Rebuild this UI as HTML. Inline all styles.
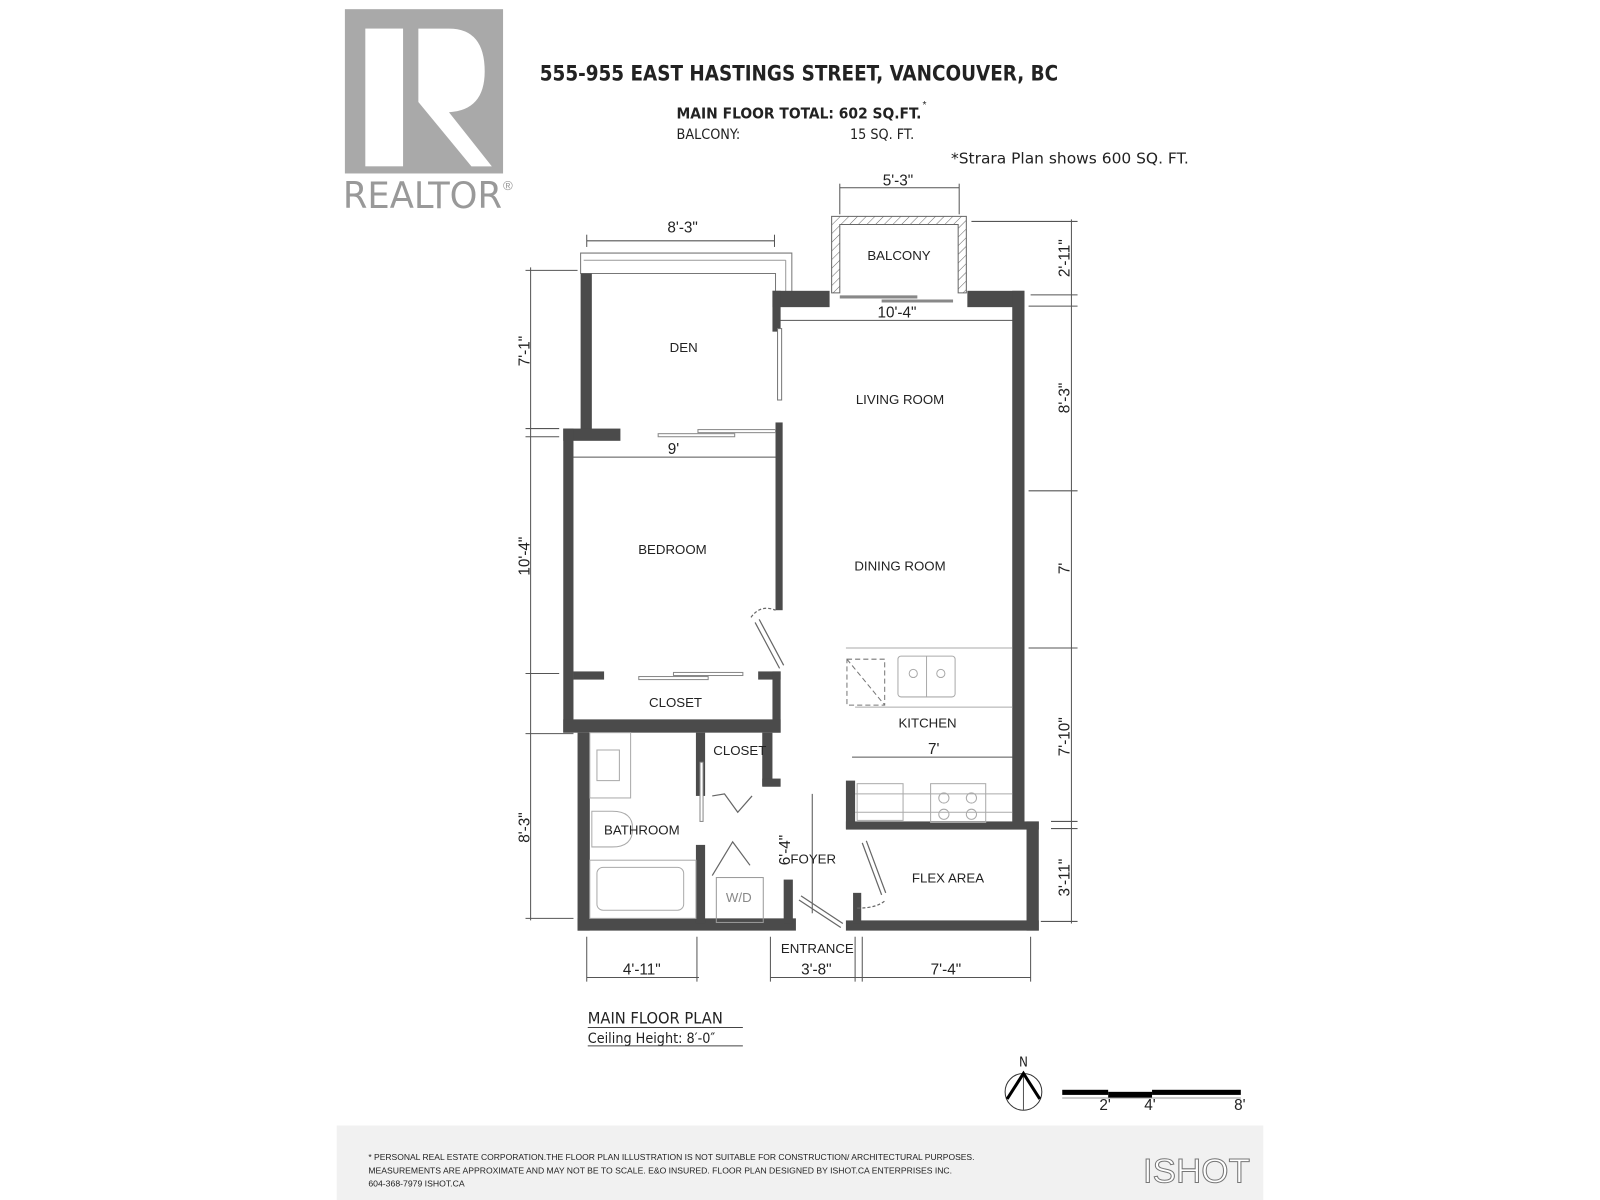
<!DOCTYPE html>
<html><head><meta charset="utf-8"><style>
html,body{margin:0;padding:0;background:#fff;width:1600px;height:1200px;overflow:hidden}
svg{display:block}
text{font-family:"Liberation Sans",sans-serif;fill:#222}
.c{font-family:"DejaVu Sans Condensed","Liberation Sans",sans-serif}
</style></head><body>
<svg width="1600" height="1200" viewBox="0 0 1568 1176" preserveAspectRatio="none" xmlns="http://www.w3.org/2000/svg">
<defs>
<pattern id="h" width="6" height="6" patternUnits="userSpaceOnUse" patternTransform="rotate(45)">
<rect width="6" height="6" fill="#fff"/><line x1="0" y1="0" x2="0" y2="6" stroke="#666" stroke-width="1"/></pattern>
</defs>
<!-- Realtor logo -->
<rect x="338" y="9" width="155" height="161" fill="#a9a9a9"/>
<rect x="358" y="28" width="37" height="135" fill="#fff"/>
<path d="M410 28 H440 Q475 28 475 70 Q475 108 440 110 L482 163 H462 L410 100 Z" fill="#fff"/>
<text x="336" y="204" font-size="36" style="fill:#999" class="c" textLength="156" lengthAdjust="spacingAndGlyphs">REALTOR</text>
<text x="493" y="186" font-size="13" style="fill:#999">®</text>
<!-- Titles -->
<text x="529" y="79" font-size="21" font-weight="bold" class="c" textLength="508" lengthAdjust="spacingAndGlyphs">555-955 EAST HASTINGS STREET, VANCOUVER, BC</text>
<text x="663" y="116" font-size="15" font-weight="bold" class="c" textLength="240" lengthAdjust="spacingAndGlyphs">MAIN FLOOR TOTAL: 602 SQ.FT.</text>
<text x="904" y="106" font-size="10">*</text>
<text x="663" y="136" font-size="14" class="c">BALCONY:</text>
<text x="833" y="136" font-size="14" class="c">15 SQ. FT.</text>
<text x="932" y="160" font-size="15" class="c" textLength="233" lengthAdjust="spacingAndGlyphs">*Strara Plan shows 600 SQ. FT.</text>
<g stroke="#555" stroke-width="1" fill="none">
<line x1="823" y1="184" x2="940" y2="184"/><line x1="823" y1="180" x2="823" y2="210"/><line x1="940" y1="180" x2="940" y2="210"/>
<line x1="575" y1="236" x2="759" y2="236"/><line x1="575" y1="230" x2="575" y2="242"/><line x1="759" y1="230" x2="759" y2="242"/>
<line x1="763" y1="314" x2="995" y2="314"/>
<line x1="562" y1="448" x2="762" y2="448"/>
<line x1="835" y1="742" x2="993" y2="742"/>
<line x1="1050" y1="215" x2="1050" y2="905"/>
<line x1="952" y1="217" x2="1056" y2="217"/><line x1="1010" y1="289" x2="1056" y2="289"/><line x1="1008" y1="300" x2="1056" y2="300"/>
<line x1="1008" y1="481" x2="1056" y2="481"/><line x1="1008" y1="635" x2="1056" y2="635"/><line x1="1030" y1="805" x2="1056" y2="805"/><line x1="1030" y1="812" x2="1056" y2="812"/><line x1="1020" y1="903" x2="1056" y2="903"/>
<line x1="520" y1="262" x2="520" y2="902"/>
<line x1="515" y1="265" x2="566" y2="265"/><line x1="515" y1="420" x2="548" y2="420"/><line x1="515" y1="428" x2="548" y2="428"/><line x1="515" y1="660" x2="548" y2="660"/><line x1="515" y1="719" x2="562" y2="719"/><line x1="515" y1="900" x2="562" y2="900"/>
<line x1="575" y1="958" x2="685" y2="958"/><line x1="575" y1="918" x2="575" y2="962"/><line x1="683" y1="918" x2="683" y2="962"/>
<line x1="755" y1="958" x2="1010" y2="958"/><line x1="755" y1="918" x2="755" y2="962"/><line x1="838" y1="918" x2="838" y2="962"/><line x1="845" y1="918" x2="845" y2="962"/><line x1="1010" y1="918" x2="1010" y2="962"/>
<line x1="796" y1="778" x2="796" y2="895"/>
</g>
<!-- balcony -->
<path d="M815 212 H947 V287 H939 V220 H823 V287 H815 Z" fill="url(#h)" stroke="#666" stroke-width="1"/>
<line x1="823" y1="291" x2="899" y2="291" stroke="#888" stroke-width="3"/>
<line x1="864" y1="295" x2="934" y2="295" stroke="#888" stroke-width="3"/>
<!-- den top thin wall -->
<path d="M569 248 H776 V290 H760 V268 H569 Z" fill="#fff" stroke="#777" stroke-width="1"/>
<line x1="572" y1="255" x2="770" y2="255" stroke="#999"/>
<line x1="770" y1="255" x2="770" y2="287" stroke="#999"/>
<!-- walls -->
<g fill="#4b4b4b">
<rect x="569" y="268" width="11" height="156"/>
<rect x="757" y="285" width="56" height="16"/>
<rect x="757" y="285" width="8" height="40"/>
<rect x="948" y="285" width="56" height="16"/>
<rect x="992" y="285" width="12" height="526"/>
<rect x="552" y="420" width="56" height="12"/>
<rect x="552" y="420" width="10" height="298"/>
<rect x="760" y="414" width="7" height="184"/>
<rect x="562" y="658" width="30" height="8"/>
<rect x="743" y="658" width="22" height="8"/>
<rect x="757" y="658" width="8" height="60"/>
<rect x="552" y="705" width="213" height="13"/>
<rect x="566" y="718" width="12" height="194"/>
<rect x="566" y="900" width="214" height="12"/>
<rect x="682" y="718" width="9" height="62"/>
<rect x="682" y="828" width="9" height="77"/>
<rect x="747" y="718" width="10" height="52"/>
<rect x="747" y="763" width="18" height="8"/>
<rect x="768" y="862" width="9" height="43"/>
<rect x="829" y="765" width="9" height="47"/>
<rect x="829" y="805" width="189" height="8"/>
<rect x="1006" y="805" width="12" height="107"/>
<rect x="829" y="902" width="189" height="10"/>
<rect x="836" y="875" width="8" height="30"/>
</g>
<rect x="762" y="322" width="4" height="70" fill="#fff" stroke="#777"/>
<g fill="#fff" stroke="#888" stroke-width="1">
<rect x="645" y="425" width="75" height="3"/><rect x="684" y="421" width="76" height="3"/>
<rect x="626" y="663" width="68" height="3"/><rect x="660" y="659" width="68" height="3"/>
<rect x="686" y="747" width="3" height="58"/>
</g>
<g stroke="#666" stroke-width="1.2" fill="none">
<line x1="740" y1="610" x2="764" y2="655"/><line x1="744" y1="607" x2="768" y2="652"/>
<path d="M736 605 Q745 592 760 598" stroke-dasharray="3 2"/>
<polyline points="698,780 710,778 723,796 737,780"/>
<polyline points="698,858 718,825 735,848"/>
<line x1="785" y1="878" x2="826" y2="905"/><line x1="783" y1="882" x2="824" y2="909"/>
<line x1="845" y1="826" x2="864" y2="877"/><line x1="849" y1="824" x2="868" y2="875"/>
<path d="M840 890 Q860 890 868 882" stroke-dasharray="3 2"/>
</g>
<g stroke="#aaa" stroke-width="1" fill="none">
<line x1="829" y1="635" x2="992" y2="635"/><line x1="838" y1="693" x2="992" y2="693"/>
<rect x="880" y="643" width="56" height="40" rx="3"/><line x1="908" y1="643" x2="908" y2="683"/>
<circle cx="895" cy="660" r="4"/><circle cx="922" cy="660" r="4"/>
<rect x="830" y="646" width="37" height="45" stroke="#777" stroke-dasharray="5 3"/><line x1="830" y1="646" x2="867" y2="691" stroke="#777" stroke-dasharray="5 3"/>
<line x1="838" y1="778" x2="992" y2="778"/><line x1="838" y1="796" x2="992" y2="796"/>
<rect x="840" y="768" width="45" height="36"/>
<rect x="912" y="768" width="54" height="38"/>
<circle cx="925" cy="782" r="5"/><circle cx="952" cy="782" r="5"/><circle cx="925" cy="798" r="5"/><circle cx="952" cy="798" r="5"/>
<rect x="578" y="718" width="40" height="64"/><rect x="585" y="735" width="22" height="30"/>
<path d="M580 795 H600 Q620 795 620 812 Q620 830 600 830 H580 Z"/>
<rect x="578" y="843" width="104" height="57"/><rect x="585" y="850" width="85" height="42" rx="6"/>
<rect x="702" y="860" width="46" height="44" stroke="#999"/>
</g>
<g font-size="13" text-anchor="middle" class="c">
<text x="881" y="255">BALCONY</text>
<text x="670" y="345">DEN</text>
<text x="882" y="396">LIVING ROOM</text>
<text x="659" y="543">BEDROOM</text>
<text x="882" y="559">DINING ROOM</text>
<text x="662" y="693">CLOSET</text>
<text x="909" y="713">KITCHEN</text>
<text x="725" y="740">CLOSET</text>
<text x="629" y="818">BATHROOM</text>
<text x="797" y="846">FOYER</text>
<text x="929" y="865">FLEX AREA</text>
<text x="724" y="884" style="fill:#888">W/D</text>
<text x="801" y="934">ENTRANCE</text>
</g>
<g font-size="15" text-anchor="middle" class="c">
<text x="669" y="228">8'-3"</text>
<text x="880" y="182">5'-3"</text>
<text x="879" y="311">10'-4"</text>
<text x="660" y="445">9'</text>
<text x="915" y="739">7'</text>
<text x="629" y="955">4'-11"</text>
<text x="800" y="955">3'-8"</text>
<text x="927" y="955">7'-4"</text>
<text transform="translate(1048,253) rotate(-90)">2'-11"</text>
<text transform="translate(1048,390) rotate(-90)">8'-3"</text>
<text transform="translate(1048,557) rotate(-90)">7'</text>
<text transform="translate(1048,722) rotate(-90)">7'-10"</text>
<text transform="translate(1048,860) rotate(-90)">3'-11"</text>
<text transform="translate(519,344) rotate(-90)">7'-1"</text>
<text transform="translate(519,545) rotate(-90)">10'-4"</text>
<text transform="translate(519,811) rotate(-90)">8'-3"</text>
<text transform="translate(774,833) rotate(-90)">6'-4"</text>
</g>
<text x="576" y="1003" font-size="16" class="c">MAIN FLOOR PLAN</text>
<line x1="576" y1="1007" x2="728" y2="1007" stroke="#444"/>
<text x="576" y="1022" font-size="14" class="c">Ceiling Height: 8′-0″</text>
<line x1="576" y1="1025" x2="728" y2="1025" stroke="#444"/>
<text x="1003" y="1045" font-size="13" text-anchor="middle" class="c">N</text>
<circle cx="1003" cy="1070" r="18" fill="none" stroke="#333"/>
<line x1="1003" y1="1052" x2="1003" y2="1088" stroke="#555"/>
<polyline points="987,1077 1003,1052 1019,1077" fill="none" stroke="#000" stroke-width="3"/>
<rect x="1041" y="1068" width="45" height="5" fill="#000"/>
<rect x="1086" y="1070" width="43" height="6" fill="#000"/>
<rect x="1129" y="1068" width="87" height="5" fill="#000"/>
<line x1="1041" y1="1076" x2="1216" y2="1076" stroke="#999"/>
<g font-size="15" class="c" text-anchor="middle"><text x="1083" y="1088">2'</text><text x="1127" y="1088">4'</text><text x="1215" y="1088">8'</text></g>
<rect x="330" y="1103" width="908" height="73" fill="#f1f1f1"/>
<g font-size="8.5" class="c">
<text x="361" y="1137" textLength="594" lengthAdjust="spacingAndGlyphs">* PERSONAL REAL ESTATE CORPORATION.THE FLOOR PLAN ILLUSTRATION IS NOT SUITABLE FOR CONSTRUCTION/ ARCHITECTURAL PURPOSES.</text>
<text x="361" y="1150" textLength="572" lengthAdjust="spacingAndGlyphs">MEASUREMENTS ARE APPROXIMATE AND MAY NOT BE TO SCALE. E&amp;O INSURED. FLOOR PLAN DESIGNED BY ISHOT.CA ENTERPRISES INC.</text>
<text x="361" y="1163">604-368-7979  ISHOT.CA</text>
</g>
<text x="1120" y="1159" font-size="34" font-family="Liberation Serif" style="fill:#fff;stroke:#777;stroke-width:1" textLength="105" lengthAdjust="spacingAndGlyphs">ISHOT</text>
</svg>
</body></html>
